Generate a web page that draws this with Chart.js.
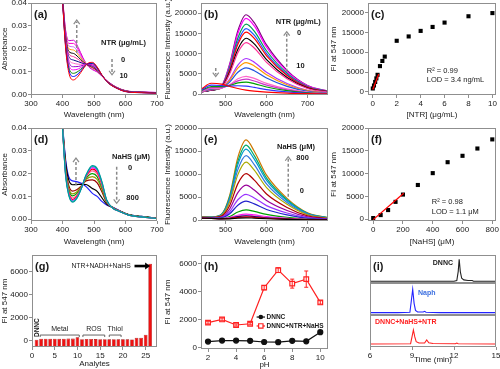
<!DOCTYPE html>
<html>
<head>
<meta charset="utf-8">
<script src="https://cdn.jsdelivr.net/npm/chart.js@4.4.0/dist/chart.umd.min.js"></script>
<style>
  html, body { margin: 0; padding: 0; background: #fff; width: 500px; height: 369px; overflow: hidden; position: relative; }
  canvas { position: absolute; }
</style>
</head>
<body>
<script>
// ---------- (a) absorbance vs NTR ----------
const wlAbs = [398, 410, 420, 435, 450, 465, 480, 495, 510, 525, 545, 570, 600, 650, 700];
const absNTR = [
  [0.046, 0.0200, 0.0095, 0.0063, 0.0080, 0.0110, 0.0135, 0.0140, 0.0120, 0.0085, 0.0050, 0.0028, 0.0012, 0.0007, 0.0005],
  [0.046, 0.0207, 0.0107, 0.0078, 0.0090, 0.0114, 0.0134, 0.0137, 0.0118, 0.0085, 0.0050, 0.0028, 0.0012, 0.0007, 0.0005],
  [0.046, 0.0213, 0.0118, 0.0092, 0.0101, 0.0118, 0.0133, 0.0135, 0.0116, 0.0084, 0.0051, 0.0029, 0.0013, 0.0008, 0.0006],
  [0.046, 0.0220, 0.0130, 0.0107, 0.0111, 0.0123, 0.0133, 0.0132, 0.0115, 0.0084, 0.0051, 0.0029, 0.0013, 0.0008, 0.0006],
  [0.046, 0.0227, 0.0142, 0.0121, 0.0122, 0.0127, 0.0132, 0.0129, 0.0113, 0.0083, 0.0052, 0.0029, 0.0013, 0.0008, 0.0006],
  [0.046, 0.0233, 0.0153, 0.0136, 0.0132, 0.0131, 0.0131, 0.0127, 0.0111, 0.0083, 0.0052, 0.0030, 0.0014, 0.0008, 0.0006],
  [0.046, 0.0240, 0.0165, 0.0150, 0.0143, 0.0135, 0.0130, 0.0124, 0.0109, 0.0083, 0.0053, 0.0030, 0.0014, 0.0009, 0.0007],
  [0.046, 0.0247, 0.0177, 0.0165, 0.0153, 0.0139, 0.0129, 0.0121, 0.0107, 0.0082, 0.0053, 0.0030, 0.0014, 0.0009, 0.0007],
  [0.046, 0.0253, 0.0188, 0.0179, 0.0163, 0.0143, 0.0128, 0.0119, 0.0105, 0.0082, 0.0053, 0.0031, 0.0015, 0.0009, 0.0007],
  [0.046, 0.0260, 0.0200, 0.0194, 0.0174, 0.0148, 0.0128, 0.0116, 0.0104, 0.0081, 0.0054, 0.0031, 0.0015, 0.0009, 0.0007],
  [0.046, 0.0267, 0.0212, 0.0208, 0.0184, 0.0152, 0.0127, 0.0113, 0.0102, 0.0081, 0.0054, 0.0031, 0.0015, 0.0010, 0.0008],
  [0.046, 0.0273, 0.0223, 0.0223, 0.0195, 0.0156, 0.0126, 0.0111, 0.0100, 0.0080, 0.0055, 0.0032, 0.0016, 0.0010, 0.0008],
  [0.046, 0.0280, 0.0235, 0.0237, 0.0205, 0.0160, 0.0125, 0.0108, 0.0098, 0.0080, 0.0055, 0.0032, 0.0016, 0.0010, 0.0008]
];
const absNTRColors = ['#ff0000', '#0000ff', '#008000', '#ff00ff', '#9900cc', '#ff66cc', '#000080',
                      '#ff3399', '#000000', '#ff9900', '#cc66ff', '#ff00cc', '#cc00cc'];

// ---------- (b) fluorescence vs NTR ----------
const wlFl = [440, 465, 490, 510, 530, 550, 570, 600, 650, 700, 750];
const flNTR = [
  [1200, 2700, 2500, 1900, 1400, 1000, 750, 500, 250, 120, 60],
  [1000, 2220, 2120, 1980, 2080, 2000, 1680, 1140, 560, 230, 100],
  [850, 1870, 1860, 2130, 2790, 3000, 2600, 1780, 870, 340, 130],
  [760, 1640, 1690, 2240, 3290, 3700, 3250, 2230, 1080, 410, 160],
  [660, 1410, 1520, 2360, 3790, 4400, 3890, 2670, 1300, 490, 190],
  [600, 1250, 1490, 3000, 5410, 6500, 5800, 3990, 1930, 720, 270],
  [590, 1190, 1500, 3420, 6420, 7800, 6980, 4800, 2330, 860, 320],
  [560, 1100, 1480, 3720, 7190, 8800, 7880, 5430, 2630, 970, 360],
  [560, 1030, 1630, 5050, 10250, 12700, 11410, 7860, 3800, 1400, 510],
  [550, 1010, 1670, 5430, 11110, 13800, 12400, 8540, 4130, 1520, 550],
  [580, 1030, 1770, 5970, 12300, 15300, 13760, 9470, 4590, 1680, 610],
  [580, 1020, 1810, 6280, 13010, 16200, 14570, 10030, 4860, 1780, 650],
  [580, 1000, 1850, 6650, 13870, 17300, 15560, 10720, 5190, 1900, 690],
  [600, 1020, 1940, 7150, 14980, 18700, 16830, 11590, 5610, 2060, 750],
  [590, 980, 1960, 7450, 15680, 19600, 17640, 12150, 5880, 2160, 780]
];
const flNTRColors = ['#ff0000', '#3333ff', '#00a000', '#cc33cc', '#ff66cc', '#2255dd', '#ff9900', '#aa33ff',
                     '#ff3399', '#000000', '#ff0000', '#2255ff', '#00a050', '#ff00ff', '#800080'];

// ---------- (c) FI at 547 nm vs [NTR] ----------
const ntrConc = [0, 0.1, 0.2, 0.3, 0.4, 0.6, 0.8, 1, 2, 3, 4, 5, 6, 8, 10];
const fiNTR = [850, 1600, 2500, 3400, 4300, 6500, 7800, 8900, 12900, 14000, 15400, 16400, 17500, 19100, 19900];
const fitNTRx = [0, 0.5];
const fitNTRy = [600, 4500];

// ---------- (d) absorbance vs NaHS ----------
const wlAbs2 = [398, 410, 420, 432, 445, 460, 475, 495, 510, 525, 540, 560, 580, 610, 650, 700];
const absNaHS = [
  [0.045, 0.0190, 0.0105, 0.0075, 0.0090, 0.0135, 0.0195, 0.0235, 0.0222, 0.0165, 0.0085, 0.0048, 0.0035, 0.0018, 0.0010, 0.0003],
  [0.045, 0.0192, 0.0107, 0.0078, 0.0092, 0.0136, 0.0193, 0.0231, 0.0218, 0.0162, 0.0084, 0.0048, 0.0035, 0.0018, 0.0010, 0.0003],
  [0.045, 0.0195, 0.0111, 0.0082, 0.0095, 0.0137, 0.0191, 0.0226, 0.0213, 0.0159, 0.0083, 0.0048, 0.0035, 0.0018, 0.0010, 0.0003],
  [0.045, 0.0198, 0.0115, 0.0086, 0.0099, 0.0138, 0.0189, 0.0220, 0.0207, 0.0155, 0.0082, 0.0048, 0.0035, 0.0018, 0.0010, 0.0003],
  [0.045, 0.0203, 0.0120, 0.0093, 0.0104, 0.0139, 0.0185, 0.0212, 0.0199, 0.0148, 0.0081, 0.0049, 0.0036, 0.0018, 0.0010, 0.0003],
  [0.045, 0.0210, 0.0128, 0.0102, 0.0112, 0.0141, 0.0180, 0.0200, 0.0187, 0.0140, 0.0078, 0.0049, 0.0036, 0.0019, 0.0011, 0.0003],
  [0.045, 0.0217, 0.0136, 0.0111, 0.0119, 0.0144, 0.0175, 0.0187, 0.0174, 0.0131, 0.0076, 0.0050, 0.0036, 0.0019, 0.0011, 0.0003],
  [0.045, 0.0226, 0.0147, 0.0123, 0.0129, 0.0146, 0.0168, 0.0172, 0.0159, 0.0120, 0.0073, 0.0050, 0.0037, 0.0019, 0.0011, 0.0004],
  [0.045, 0.0247, 0.0171, 0.0151, 0.0152, 0.0153, 0.0152, 0.0135, 0.0122, 0.0094, 0.0066, 0.0051, 0.0037, 0.0020, 0.0012, 0.0004],
  [0.045, 0.0260, 0.0185, 0.0168, 0.0165, 0.0157, 0.0143, 0.0113, 0.0100, 0.0078, 0.0062, 0.0052, 0.0038, 0.0020, 0.0012, 0.0004]
];
const absNaHSColors = ['#009999', '#00cccc', '#ff00ff', '#ff0000', '#ff6699', '#00a000', '#999900', '#990000', '#000000', '#2222ff'];

// ---------- (e) fluorescence vs NaHS ----------
const flNaHS = [
  [410, 360, 280, 280, 430, 500, 420, 290, 150, 70, 30],
  [410, 360, 290, 340, 580, 700, 590, 400, 210, 90, 40],
  [420, 370, 300, 400, 740, 900, 770, 510, 260, 100, 50],
  [420, 370, 310, 460, 900, 1100, 940, 620, 320, 120, 50],
  [420, 370, 320, 520, 1050, 1300, 1110, 730, 370, 140, 60],
  [440, 390, 380, 790, 1750, 2200, 1880, 1240, 610, 220, 80],
  [480, 430, 490, 1360, 3240, 4100, 3520, 2300, 1130, 390, 140],
  [510, 460, 580, 1810, 4410, 5600, 4810, 3140, 1530, 530, 190],
  [550, 500, 700, 2410, 5970, 7600, 6530, 4260, 2070, 710, 250],
  [600, 550, 850, 3160, 7920, 10100, 8680, 5660, 2750, 930, 320],
  [650, 600, 1000, 3910, 9870, 12600, 10830, 7060, 3420, 1160, 400],
  [680, 630, 1090, 4330, 10960, 14000, 12030, 7850, 3800, 1280, 440],
  [710, 660, 1170, 4750, 12050, 15400, 13240, 8630, 4180, 1410, 480],
  [720, 670, 1220, 5020, 12750, 16300, 14010, 9130, 4420, 1490, 510],
  [750, 700, 1290, 5350, 13610, 17400, 14960, 9750, 4720, 1590, 540]
];
const flNaHSColors = ['#000000', '#ff0000', '#000080', '#ff66cc', '#ff00ff', '#00a000', '#2222cc', '#9933ff',
                      '#990099', '#b00000', '#aaaa00', '#3377dd', '#0099cc', '#00aa66', '#cc7700'];

// ---------- (f) FI at 547 nm vs [NaHS] ----------
const nahsConc = [0, 50, 100, 150, 200, 300, 400, 500, 600, 700, 800];
const fiNaHS = [250, 900, 2000, 3800, 5400, 7500, 10100, 12500, 13900, 15500, 17500];
const fitNaHSx = [0, 205];
const fitNaHSy = [-100, 5700];

// ---------- (g) selectivity ----------
const analytes = [1, 2, 3, 4, 5, 6, 7, 8, 9, 10, 11, 12, 13, 14, 15, 16, 17, 18, 19, 20, 21, 22, 23, 24, 25, 26];
const fiAnalytes = [80, 170, 175, 170, 175, 165, 170, 185, 180, 290, 130, 145, 150, 140, 130, 130,
                    120, 125, 120, 120, 120, 110, 250, 260, 520, 6700];
const groupNames = ['Metal', 'ROS', 'Thiol'];
const groupFrom = [1.8, 11.2, 17.0];
const groupTo = [10.4, 16.0, 19.6];

// ---------- (h) pH ----------
const pH = [2, 3, 4, 5, 6, 7, 8, 9, 10];
const fiDNNC = [430, 500, 500, 480, 400, 390, 480, 450, 1100];
const errDNNC = [40, 40, 40, 40, 40, 40, 50, 50, 80];
const fiMix = [1780, 2010, 1610, 1700, 4270, 5520, 4560, 4880, 3220];
const errMix = [100, 100, 80, 80, 150, 170, 320, 580, 120];

// ---------- (i) HPLC ----------
const tDNNC = [6, 7, 8, 9, 10, 11, 12, 12.2, 12.3, 12.37, 12.45, 12.55, 12.7, 13.0, 13.3, 13.4, 14, 15];
const hplcDNNC = [0.02, 0.02, 0.02, 0.02, 0.02, 0.02, 0.02, 0.05, 0.45, 1.0, 0.45, 0.15, 0.08, 0.05, 0.05, 0.02, 0.02, 0.02];
const tNaph = [6, 8, 8.85, 8.95, 9.05, 9.15, 9.25, 9.4, 9.8, 9.9, 10.0, 11, 15];
const hplcNaph = [0, 0, 0.02, 0.5, 1.0, 0.4, 0.1, 0.03, 0.03, 0.06, 0.02, 0, 0];
const tMix = [6, 8.9, 9.0, 9.1, 9.2, 9.3, 9.5, 9.9, 10.05, 10.2, 10.5, 12.1, 12.2, 12.3, 15];
const hplcMix = [0, 0.01, 0.3, 0.6, 0.3, 0.1, 0.04, 0.04, 0.17, 0.05, 0.02, 0.01, 0.04, 0.01, 0];

// ---------- tick labels ----------
const ticksWl = [300, 400, 500, 600, 700];
const ticksAbs = [0, 0.01, 0.02, 0.03, 0.04];
const ticksWlFl = [500, 600, 700];
const ticksFl = [0, 5000, 10000, 15000, 20000];
const ticksNTR = [0, 2, 4, 6, 8, 10];
const ticksNaHS = [0, 200, 400, 600, 800];
const ticksAnalytes = [0, 5, 10, 15, 20, 25];
const ticksFI = [0, 2000, 4000, 6000];
const ticksPH = [2, 4, 6, 8, 10];
const ticksTime = [6, 9, 12, 15];

// ---------- helpers ----------
const FONT = "'Liberation Sans', Arial, sans-serif";
const FRAME = '#8f8f8f';
Chart.defaults.font.family = FONT;
Chart.defaults.font.size = 8;
Chart.defaults.color = '#1a1a1a';

function pts(xs, ys) { return xs.map((x, i) => ({x: x, y: ys[i]})); }

function linAxis(min, max, ticks, fmt) {
  return {
    type: 'linear', min: min, max: max, bounds: 'data', offset: false,
    afterBuildTicks: s => { s.ticks = ticks.map(v => ({value: v})); },
    ticks: {autoSkip: false, maxRotation: 0, padding: 1, callback: fmt || (v => String(v))},
    grid: {drawOnChartArea: false, drawTicks: true, tickLength: 3, tickColor: FRAME, offset: false},
    border: {display: false}
  };
}
function blankAxis(min, max) {
  return {type: 'linear', min: min, max: max, bounds: 'data', offset: false,
          ticks: {display: false}, grid: {display: false}, border: {display: false}};
}
function curves(xs, rows, colors, w) {
  return rows.map((r, i) => ({data: pts(xs, r), borderColor: colors[i], borderWidth: w, pointRadius: 0,
                              cubicInterpolationMode: 'monotone', fill: false}));
}

function drawDecor(chart, d) {
  const ctx = chart.ctx, ca = chart.chartArea;
  const W = ca.right - ca.left, H = ca.bottom - ca.top;
  const P = (fx, fy) => [ca.left + fx * W, ca.top + fy * H];
  ctx.save();
  ctx.strokeStyle = FRAME; ctx.lineWidth = 1;
  ctx.strokeRect(ca.left + 0.5, ca.top + 0.5, W - 1, H - 1);
  ctx.fillStyle = '#1a1a1a'; ctx.textBaseline = 'middle';
  if (d.yTitle) {
    ctx.save();
    ctx.translate(ca.left - d.yOff, (ca.top + ca.bottom) / 2);
    ctx.rotate(-Math.PI / 2);
    ctx.font = '8px ' + FONT; ctx.textAlign = 'center';
    ctx.fillText(d.yTitle, 0, 0);
    ctx.restore();
  }
  if (d.xTitle) {
    ctx.font = '8px ' + FONT; ctx.textAlign = 'center';
    ctx.fillText(d.xTitle, (ca.left + ca.right) / 2, ca.bottom + d.xOff);
  }
  if (d.label) {
    ctx.font = 'bold 11px ' + FONT; ctx.textAlign = 'left';
    ctx.fillText(d.label, ca.left + 3, ca.top + 12);
  }
  (d.arrows || []).forEach(a => {
    const p0 = P(a.fx, a.fy0), p1 = P(a.fx, a.fy1);
    const s = p1[1] < p0[1] ? 1 : -1;
    ctx.strokeStyle = '#8a8a8a'; ctx.lineWidth = 1.5;
    ctx.setLineDash([3, 2]);
    ctx.beginPath(); ctx.moveTo(p0[0], p0[1]); ctx.lineTo(p1[0], p1[1] + s * 2); ctx.stroke();
    ctx.setLineDash([]); ctx.lineWidth = 1.2;
    ctx.beginPath();
    ctx.moveTo(p1[0] - 3, p1[1] + s * 4); ctx.lineTo(p1[0], p1[1]); ctx.lineTo(p1[0] + 3, p1[1] + s * 4);
    ctx.stroke();
  });
  (d.texts || []).forEach(t => {
    const p = P(t.fx, t.fy);
    ctx.font = (t.f || '7.5px') + ' ' + FONT;
    ctx.textAlign = t.a || 'center';
    ctx.fillStyle = t.c || '#1a1a1a';
    ctx.fillText(t.t, p[0], p[1]);
  });
  if (d.extra) d.extra(chart, ctx, P);
  ctx.restore();
}

function panel(box, type, datasets, xAxis, yAxis, deco) {
  const Y = 46, X = 30, T = 12, R = 14;
  const cv = document.createElement('canvas');
  cv.width = box.w + Y + R; cv.height = box.h + T + X;
  cv.style.left = (box.l - Y) + 'px'; cv.style.top = (box.t - T) + 'px';
  document.body.appendChild(cv);
  xAxis.afterFit = s => { s.height = X; s.paddingLeft = 0; s.paddingRight = 0; };
  yAxis.afterFit = s => { s.width = Y; s.paddingTop = 0; s.paddingBottom = 0; };
  return new Chart(cv, {
    type: type,
    data: {datasets: datasets},
    options: {
      responsive: false, animation: false, devicePixelRatio: 1,
      layout: {padding: {left: 0, top: T, right: R, bottom: 0}},
      scales: {x: xAxis, y: yAxis},
      plugins: {legend: {display: false}, tooltip: {enabled: false}}
    },
    plugins: [{id: 'decor', afterDraw: c => drawDecor(c, deco)}]
  });
}

const fmt2 = v => v.toFixed(2);

// (a)
panel({l: 31, t: 3, w: 126, h: 92}, 'line', curves(wlAbs, absNTR, absNTRColors, 1),
  linAxis(300, 700, ticksWl), linAxis(-0.0003, 0.04, ticksAbs, fmt2),
  {label: '(a)', yTitle: 'Absorbance', yOff: 26, xTitle: 'Wavelength (nm)', xOff: 20,
   texts: [{t: 'NTR (μg/mL)', fx: 0.734, fy: 0.435, f: 'bold 7.5px'},
           {t: '0', fx: 0.73, fy: 0.62, f: 'bold 7.5px'},
           {t: '10', fx: 0.735, fy: 0.793, f: 'bold 7.5px'}],
   arrows: [{fx: 0.363, fy0: 0.543, fy1: 0.185}, {fx: 0.643, fy0: 0.61, fy1: 0.78}]});

// (b)
panel({l: 201, t: 3, w: 127, h: 92}, 'line', curves(wlFl, flNTR, flNTRColors, 1.2),
  linAxis(440, 750, ticksWlFl), linAxis(-200, 22500, ticksFl),
  {label: '(b)', yTitle: 'Fluorescence Intensity (a.u.)', yOff: 33, xTitle: 'Wavelength (nm)', xOff: 20,
   texts: [{t: 'NTR (μg/mL)', fx: 0.766, fy: 0.203, f: 'bold 7.5px'},
           {t: '0', fx: 0.772, fy: 0.326, f: 'bold 7.5px'},
           {t: '10', fx: 0.783, fy: 0.685, f: 'bold 7.5px'}],
   arrows: [{fx: 0.675, fy0: 0.747, fy1: 0.312}, {fx: 0.116, fy0: 0.707, fy1: 0.80}]});

// (c)
panel({l: 368, t: 3, w: 128, h: 92}, 'line', [
    {data: pts(fitNTRx, fitNTRy), borderColor: '#ff0000', borderWidth: 1.3, pointRadius: 0},
    {data: pts(ntrConc, fiNTR), showLine: false, pointStyle: 'rect', pointRadius: 2.9,
     backgroundColor: '#000', borderColor: '#000', borderWidth: 0}
  ],
  linAxis(-0.4, 10.3, ticksNTR), linAxis(-800, 22450, ticksFl),
  {label: '(c)', yTitle: 'FI at 547 nm', yOff: 34, xTitle: '[NTR] (μg/mL)', xOff: 20,
   texts: [{t: 'R² = 0.99', fx: 0.459, fy: 0.736, a: 'left'},
           {t: 'LOD = 3.4 ng/mL', fx: 0.459, fy: 0.837, a: 'left'}]});

// (d)
panel({l: 31, t: 128, w: 126, h: 93}, 'line', curves(wlAbs2, absNaHS, absNaHSColors, 1.2),
  linAxis(300, 700, ticksWl), linAxis(-0.0008, 0.04, ticksAbs, fmt2),
  {label: '(d)', yTitle: 'Absorbance', yOff: 26, xTitle: 'Wavelength (nm)', xOff: 21,
   texts: [{t: 'NaHS (μM)', fx: 0.794, fy: 0.309, f: 'bold 7.5px'},
           {t: '0', fx: 0.786, fy: 0.43, f: 'bold 7.5px'},
           {t: '800', fx: 0.806, fy: 0.753, f: 'bold 7.5px'}],
   arrows: [{fx: 0.357, fy0: 0.613, fy1: 0.323}, {fx: 0.68, fy0: 0.416, fy1: 0.81}]});

// (e)
panel({l: 201, t: 128, w: 127, h: 93}, 'line', curves(wlFl, flNaHS, flNaHSColors, 1.2),
  linAxis(440, 750, ticksWlFl), linAxis(-200, 20000, ticksFl),
  {label: '(e)', yTitle: 'Fluorescence Intensity (a.u.)', yOff: 33, xTitle: 'Wavelength (nm)', xOff: 21,
   texts: [{t: 'NaHS (μM)', fx: 0.748, fy: 0.2, f: 'bold 7.5px'},
           {t: '800', fx: 0.8, fy: 0.326, f: 'bold 7.5px'},
           {t: '0', fx: 0.793, fy: 0.677, f: 'bold 7.5px'}],
   arrows: [{fx: 0.687, fy0: 0.739, fy1: 0.309}]});

// (f)
panel({l: 368, t: 128, w: 128, h: 93}, 'line', [
    {data: pts(fitNaHSx, fitNaHSy), borderColor: '#ff0000', borderWidth: 1.3, pointRadius: 0},
    {data: pts(nahsConc, fiNaHS), showLine: false, pointStyle: 'rect', pointRadius: 2.9,
     backgroundColor: '#000', borderColor: '#000', borderWidth: 0}
  ],
  linAxis(-35, 825, ticksNaHS), linAxis(-400, 20000, ticksFl),
  {label: '(f)', yTitle: 'FI at 547 nm', yOff: 34, xTitle: '[NaHS] (μM)', xOff: 21,
   texts: [{t: 'R² = 0.98', fx: 0.498, fy: 0.8, a: 'left'},
           {t: 'LOD = 1.1 μM', fx: 0.498, fy: 0.906, a: 'left'}]});

// (g) bars start at the bottom of the value axis, as in the original plot
const gMin = -550;
panel({l: 32, t: 255, w: 125, h: 92}, 'bar', [
    {data: pts(analytes, fiAnalytes), base: gMin, backgroundColor: '#ee1111', borderColor: '#a00000', borderWidth: 0.6,
     barPercentage: 0.82, categoryPercentage: 1}
  ],
  linAxis(0, 27.5, ticksAnalytes), linAxis(gMin, 7450, ticksFI),
  {label: '(g)', yTitle: 'FI at 547 nm', yOff: 27, xTitle: 'Analytes', xOff: 17,
   texts: [{t: 'NTR+NADH+NaHS', fx: 0.79, fy: 0.12, f: '6.8px', a: 'right'}],
   extra: (chart, ctx, P) => {
     const xs = chart.scales.x;
     // arrow to the last bar
     const a0 = P(0.82, 0.12), a1 = P(0.945, 0.12);
     ctx.strokeStyle = '#000'; ctx.fillStyle = '#000'; ctx.lineWidth = 2.6;
     ctx.beginPath(); ctx.moveTo(a0[0], a0[1]); ctx.lineTo(a1[0] - 4, a1[1]); ctx.stroke();
     ctx.beginPath(); ctx.moveTo(a1[0], a1[1]); ctx.lineTo(a1[0] - 5, a1[1] - 3.5); ctx.lineTo(a1[0] - 5, a1[1] + 3.5);
     ctx.closePath(); ctx.fill();
     // group brackets
     ctx.strokeStyle = '#555'; ctx.lineWidth = 0.9; ctx.fillStyle = '#1a1a1a';
     ctx.font = '7px ' + FONT; ctx.textAlign = 'center';
     const yl = P(0, 0.87)[1], yt = P(0, 0.81)[1];
     groupNames.forEach((g, i) => {
       const x0 = xs.getPixelForValue(groupFrom[i]), x1 = xs.getPixelForValue(groupTo[i]);
       ctx.beginPath(); ctx.moveTo(x0, yl + 2); ctx.lineTo(x0, yl); ctx.lineTo(x1, yl); ctx.lineTo(x1, yl + 2); ctx.stroke();
       ctx.fillText(g, (x0 + x1) / 2, yt);
     });
     // DNNC label over bar 1
     ctx.save();
     ctx.translate(xs.getPixelForValue(analytes[0]) + 0.5, P(0, 0.79)[1]);
     ctx.rotate(-Math.PI / 2);
     ctx.font = 'bold 6.5px ' + FONT; ctx.textAlign = 'center';
     ctx.fillText('DNNC', 0, 0);
     ctx.restore();
   }});

// (h)
panel({l: 201, t: 255, w: 127, h: 94}, 'line', [
    {data: pts(pH, fiMix), borderColor: '#ff2020', borderWidth: 1.2, pointStyle: 'rect', pointRadius: 3.3,
     pointBackgroundColor: '#fff', pointBorderColor: '#ff2020', pointBorderWidth: 1.2, tension: 0},
    {data: pts(pH, fiDNNC), borderColor: '#111', borderWidth: 1.2, pointStyle: 'circle', pointRadius: 2.5,
     pointBackgroundColor: '#111', pointBorderColor: '#111', tension: 0}
  ],
  linAxis(1.5, 10.55, ticksPH), linAxis(-100, 6600, ticksFI),
  {label: '(h)', yTitle: 'FI at 547 nm', yOff: 33, xTitle: 'pH', xOff: 16,
   extra: (chart, ctx, P) => {
     const xs = chart.scales.x, ys = chart.scales.y;
     const bars = [[fiMix, errMix, '#ff2020'], [fiDNNC, errDNNC, '#111']];
     bars.forEach(([v, e, c]) => {
       ctx.strokeStyle = c; ctx.lineWidth = 1;
       pH.forEach((p, i) => {
         const x = xs.getPixelForValue(p), y0 = ys.getPixelForValue(v[i] - e[i]), y1 = ys.getPixelForValue(v[i] + e[i]);
         ctx.beginPath();
         ctx.moveTo(x, y0); ctx.lineTo(x, y1);
         ctx.moveTo(x - 2, y0); ctx.lineTo(x + 2, y0);
         ctx.moveTo(x - 2, y1); ctx.lineTo(x + 2, y1);
         ctx.stroke();
       });
     });
     // legend
     const rows = [['DNNC', '#111', 'circle', 0.66], ['DNNC+NTR+NaHS', '#ff2020', 'rect', 0.755]];
     rows.forEach(([name, c, shape, fy]) => {
       const a = P(0.438, fy), b = P(0.504, fy);
       ctx.strokeStyle = c; ctx.lineWidth = 1.2;
       ctx.beginPath(); ctx.moveTo(a[0], a[1]); ctx.lineTo(b[0], b[1]); ctx.stroke();
       const mx = (a[0] + b[0]) / 2;
       ctx.beginPath();
       if (shape === 'circle') { ctx.fillStyle = c; ctx.arc(mx, a[1], 2.3, 0, Math.PI * 2); ctx.fill(); }
       else { ctx.fillStyle = '#fff'; ctx.rect(mx - 2.2, a[1] - 2.2, 4.4, 4.4); ctx.fill(); ctx.stroke(); }
       ctx.fillStyle = '#1a1a1a'; ctx.font = 'bold 6.5px ' + FONT; ctx.textAlign = 'left';
       ctx.fillText(name, b[0] + 1.5, a[1]);
     });
   }});

// (i) three stacked chromatograms
panel({l: 370, t: 255, w: 126, h: 28}, 'line', [
    {data: pts(tDNNC, hplcDNNC), borderColor: '#222', borderWidth: 1.1, pointRadius: 0, tension: 0}
  ],
  blankAxis(6, 15), blankAxis(-0.06, 1.19),
  {label: '(i)', texts: [{t: 'DNNC', fx: 0.659, fy: 0.286, f: 'bold 7px', a: 'right'}]});
panel({l: 370, t: 283, w: 126, h: 32}, 'line', [
    {data: pts(tNaph, hplcNaph), borderColor: '#2323ff', borderWidth: 1.1, pointRadius: 0, tension: 0}
  ],
  blankAxis(6, 15), blankAxis(-0.1, 1.27),
  {texts: [{t: 'Naph', fx: 0.381, fy: 0.303, f: 'bold 7px', a: 'left', c: '#3b6fe0'}]});
panel({l: 370, t: 315, w: 126, h: 32}, 'line', [
    {data: pts(tMix, hplcMix), borderColor: '#ff2020', borderWidth: 1.1, pointRadius: 0, tension: 0}
  ],
  linAxis(6, 15, ticksTime), blankAxis(-0.13, 1.24),
  {xTitle: 'Time (min)', xOff: 13,
   texts: [{t: 'DNNC+NaHS+NTR', fx: 0.04, fy: 0.21, f: 'bold 7px', a: 'left', c: '#ff2020'}]});
</script>
</body>
</html>
